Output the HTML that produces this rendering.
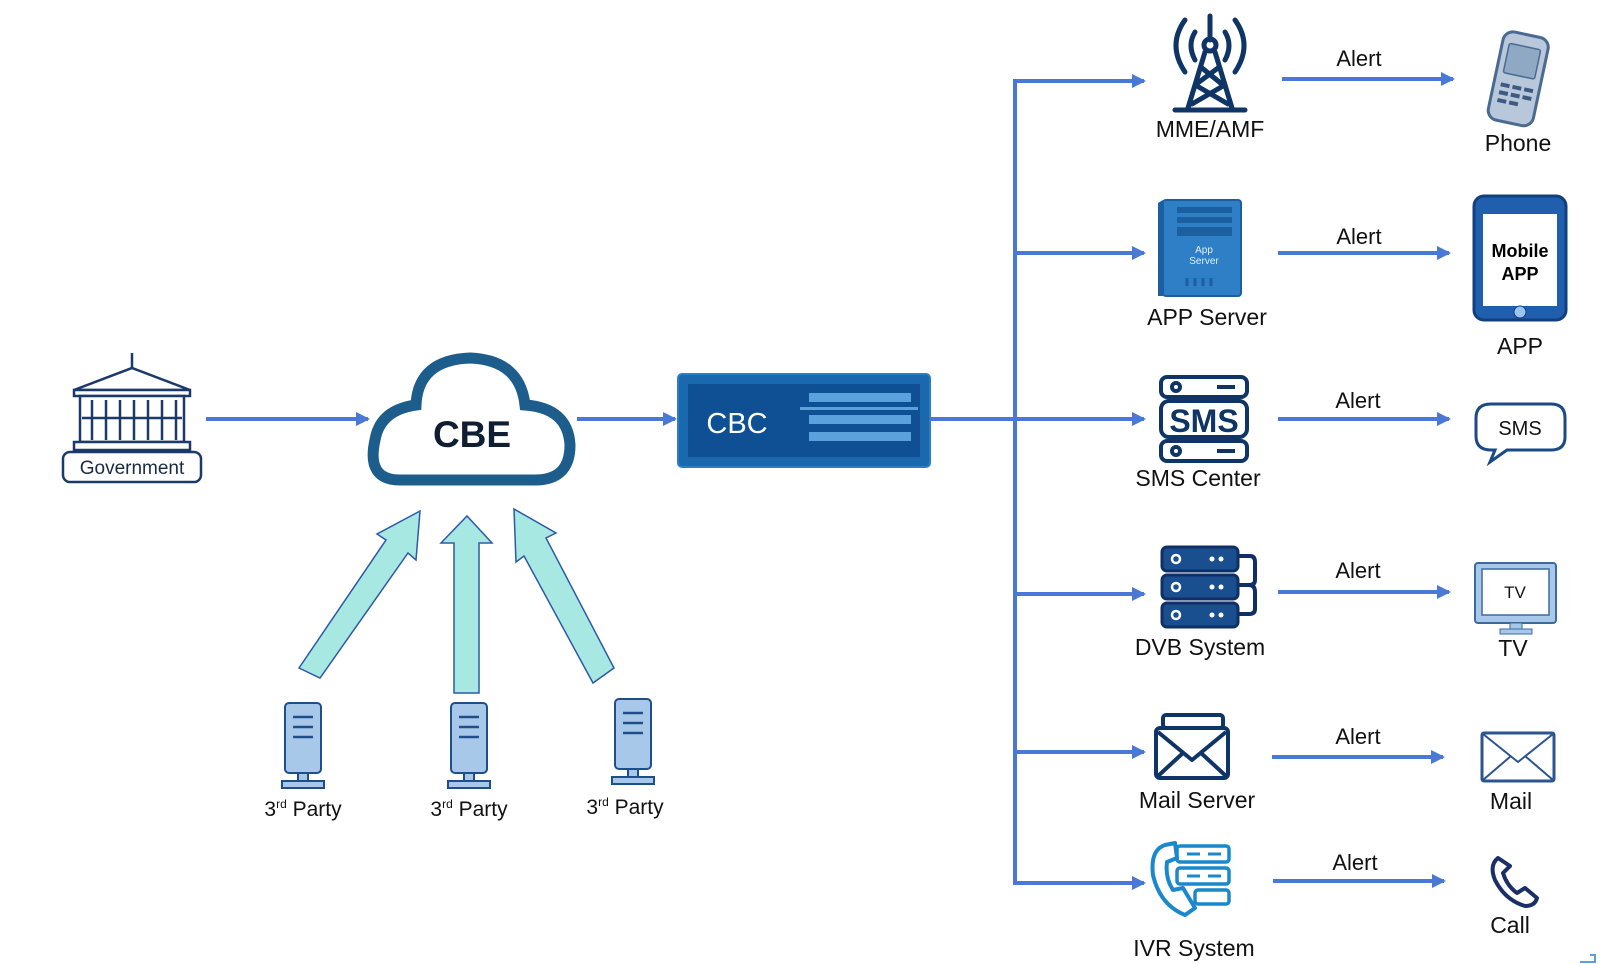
<!DOCTYPE html>
<html><head><meta charset="utf-8"><style>
html,body{margin:0;padding:0;background:#fff}
svg{display:block}
text{font-family:"Liberation Sans",sans-serif}
</style></head><body>
<svg width="1620" height="964" viewBox="0 0 1620 964" xmlns="http://www.w3.org/2000/svg">
<defs>
<marker id="ah2" markerWidth="14" markerHeight="14" refX="12" refY="7" orient="auto" markerUnits="userSpaceOnUse"><path d="M0,0 L14,7 L0,14 z" fill="#4a78d6"/></marker>
</defs>
<g stroke="#4a78d6" stroke-width="4" fill="none" marker-end="url(#ah2)">
<line x1="206" y1="419" x2="368" y2="419"/>
<line x1="577" y1="419" x2="675" y2="419"/>
</g>
<!-- Government -->
<g stroke="#1b3a6b" stroke-width="2.5" fill="#fff">
<line x1="132" y1="353" x2="132" y2="368"/>
<path d="M74 390 L132 368 L190 390 Z"/>
<rect x="74" y="390" width="116" height="6"/>
<rect x="80" y="396" width="104" height="46"/>
<line x1="92" y1="400" x2="92" y2="440"/><line x1="106" y1="400" x2="106" y2="440"/><line x1="120" y1="400" x2="120" y2="440"/><line x1="134" y1="400" x2="134" y2="440"/><line x1="148" y1="400" x2="148" y2="440"/><line x1="162" y1="400" x2="162" y2="440"/><line x1="176" y1="400" x2="176" y2="440"/>
<line x1="82" y1="418" x2="182" y2="418"/>
<rect x="74" y="442" width="116" height="8"/>
<rect x="63" y="452" width="138" height="30" rx="7"/>
</g>
<text x="132" y="474" font-size="19" text-anchor="middle" fill="#1b2a44">Government</text>
<!-- Cloud -->
<path d="M400 480 Q366 480 375 440 Q380 410 416 405 Q418 360 470 358 Q520 360 525 405 Q568 408 570 445 Q570 480 535 480 Z" fill="#fff" stroke="#1d5d8c" stroke-width="11"/>
<text x="472" y="447" font-size="37" font-weight="bold" text-anchor="middle" fill="#0f1e33">CBE</text>
<!-- CBC -->
<g transform="translate(-3,0)">
<rect x="681" y="374" width="252" height="93" rx="4" fill="#1a68ad" stroke="#2d7ec4" stroke-width="2"/>
<rect x="691" y="384" width="232" height="73" fill="#0f4f94"/>
<text x="740" y="433" font-size="29" text-anchor="middle" fill="#fff">CBC</text>
<g fill="#5aa2dc"><rect x="812" y="393" width="102" height="9"/><rect x="803" y="407" width="118" height="3"/><rect x="812" y="415" width="102" height="9"/><rect x="812" y="432" width="102" height="9"/></g>
</g>
<!-- teal arrows -->
<g fill="#a8e8e2" stroke="#2c5aa6" stroke-width="1.5">
<path d="M299 668 L386 540 L377 534 L420 511 L416 560 L408 553 L320 678 Z"/>
<path d="M454 693 L454 543 L441 543 L467 516 L492 543 L479 543 L479 693 Z"/>
<path d="M593 683 L524 556 L516 562 L514 509 L556 533 L546 538 L614 668 Z"/>
</g>
<!-- 3rd party servers -->
<g fill="#a8c8ea" stroke="#1f4f8a" stroke-width="2">
<rect x="285" y="703" width="36" height="70" rx="4"/><rect x="298" y="773" width="10" height="8"/><rect x="282" y="781" width="42" height="7"/>
<rect x="451" y="703" width="36" height="70" rx="4"/><rect x="464" y="773" width="10" height="8"/><rect x="448" y="781" width="42" height="7"/>
<rect x="615" y="699" width="36" height="70" rx="4"/><rect x="628" y="769" width="10" height="8"/><rect x="612" y="777" width="42" height="7"/>
</g>
<g stroke="#1f4f8a" stroke-width="2.5">
<line x1="293" y1="717" x2="313" y2="717"/><line x1="293" y1="727" x2="313" y2="727"/><line x1="293" y1="737" x2="313" y2="737"/>
<line x1="459" y1="717" x2="479" y2="717"/><line x1="459" y1="727" x2="479" y2="727"/><line x1="459" y1="737" x2="479" y2="737"/>
<line x1="623" y1="713" x2="643" y2="713"/><line x1="623" y1="723" x2="643" y2="723"/><line x1="623" y1="733" x2="643" y2="733"/>
</g>
<g font-size="21" fill="#111" text-anchor="middle">
<text x="303" y="816">3<tspan font-size="12" dy="-8">rd</tspan><tspan dy="8"> Party</tspan></text>
<text x="469" y="816">3<tspan font-size="12" dy="-8">rd</tspan><tspan dy="8"> Party</tspan></text>
<text x="625" y="814">3<tspan font-size="12" dy="-8">rd</tspan><tspan dy="8"> Party</tspan></text>
</g>
<line x1="930" y1="419" x2="1017" y2="419" stroke="#4a78d6" stroke-width="4"/>
<g transform="translate(-5,0)">
<g stroke="#4a78d6" stroke-width="4" fill="none" marker-end="url(#ah2)">
<line x1="1020" y1="81" x2="1149" y2="81"/>
<line x1="1020" y1="253" x2="1149" y2="253"/>
<line x1="1020" y1="419" x2="1149" y2="419"/>
<line x1="1020" y1="594" x2="1149" y2="594"/>
<line x1="1020" y1="752" x2="1149" y2="752"/>
<line x1="1020" y1="883" x2="1149" y2="883"/>
<line x1="1287" y1="79" x2="1458" y2="79"/>
<line x1="1283" y1="253" x2="1454" y2="253"/>
<line x1="1283" y1="419" x2="1454" y2="419"/>
<line x1="1283" y1="592" x2="1454" y2="592"/>
<line x1="1277" y1="757" x2="1448" y2="757"/>
<line x1="1278" y1="881" x2="1449" y2="881"/>
</g>
<line x1="1020" y1="79" x2="1020" y2="885" stroke="#4a78d6" stroke-width="4"/>
<!-- MME tower -->
<g stroke="#0f3466" stroke-width="5" fill="none" stroke-linecap="round">
<path d="M1190 20 Q1172 45 1190 72"/><path d="M1240 20 Q1258 45 1240 72"/>
<path d="M1200 32 Q1192 45 1200 60"/><path d="M1230 32 Q1238 45 1230 60"/>
<line x1="1215" y1="16" x2="1215" y2="40"/>
<circle cx="1215" cy="45" r="6"/>
<path d="M1210 52 L1193 108 M1220 52 L1237 108 M1207 68 L1228 85 M1223 68 L1200 85 M1202 86 L1233 104 M1228 86 L1197 104"/>
<line x1="1180" y1="110" x2="1250" y2="110"/>
</g>
<!-- APP server -->
<rect x="1168" y="200" width="78" height="96" rx="3" fill="#2f7fc6" stroke="#1c5fa0" stroke-width="2"/>
<path d="M1168 200 L1163 203 L1163 296 L1168 296 Z" fill="#1c5fa0"/>
<g fill="#1c5fa0"><rect x="1182" y="207" width="55" height="6"/><rect x="1182" y="217" width="55" height="6"/><rect x="1182" y="227" width="55" height="9"/></g>
<text x="1209" y="253" font-size="10" fill="#dfefff" text-anchor="middle">App</text>
<text x="1209" y="264" font-size="10" fill="#dfefff" text-anchor="middle">Server</text>
<g stroke="#1c5fa0" stroke-width="3"><line x1="1192" y1="278" x2="1192" y2="286"/><line x1="1200" y1="278" x2="1200" y2="286"/><line x1="1208" y1="278" x2="1208" y2="286"/><line x1="1216" y1="278" x2="1216" y2="286"/></g>
<!-- SMS center -->
<g stroke="#0f3466" stroke-width="4" fill="#fff">
<rect x="1166" y="377" width="86" height="20" rx="6"/>
<rect x="1166" y="401" width="86" height="36" rx="8"/>
<rect x="1166" y="441" width="86" height="20" rx="6"/>
</g>
<g stroke="#0f3466" stroke-width="4" fill="none"><circle cx="1181" cy="387" r="4"/><circle cx="1181" cy="451" r="4"/><line x1="1222" y1="387" x2="1240" y2="387"/><line x1="1222" y1="451" x2="1240" y2="451"/></g>
<text x="1209" y="432" font-size="32" font-weight="bold" fill="#0f3466" text-anchor="middle">SMS</text>
<!-- DVB -->
<g fill="#1a4f8f" stroke="#0f2f66" stroke-width="3">
<rect x="1167" y="547" width="76" height="24" rx="5"/><rect x="1167" y="575" width="76" height="24" rx="5"/><rect x="1167" y="603" width="76" height="24" rx="5"/>
</g>
<path d="M1243 556 L1255 556 Q1260 556 1260 562 L1260 580 Q1260 585 1254 585 L1243 585 M1254 585 Q1260 585 1260 592 L1260 609 Q1260 614 1254 614 L1243 614" fill="none" stroke="#0f2f66" stroke-width="4"/>
<g fill="none" stroke="#fff" stroke-width="2.5"><circle cx="1181" cy="559" r="4"/><circle cx="1181" cy="587" r="4"/><circle cx="1181" cy="615" r="4"/></g>
<g fill="#fff"><circle cx="1217" cy="559" r="2.5"/><circle cx="1226" cy="559" r="2.5"/><circle cx="1217" cy="587" r="2.5"/><circle cx="1226" cy="587" r="2.5"/><circle cx="1217" cy="615" r="2.5"/><circle cx="1226" cy="615" r="2.5"/></g>
<!-- Mail server -->
<g stroke="#0f3466" stroke-width="4" fill="#fff" stroke-linejoin="round">
<rect x="1168" y="715" width="60" height="13" rx="3"/>
<rect x="1161" y="728" width="72" height="50" rx="4"/>
<path d="M1163 732 L1197 760 L1231 732 M1163 776 L1188 753 M1231 776 L1206 753"/>
</g>
<!-- IVR -->
<path d="M1170 845 Q1155 850 1158 875 Q1165 905 1190 915 L1200 908 L1188 888 L1178 890 Q1170 878 1172 862 L1182 858 L1180 843 Z" fill="none" stroke="#1a88cc" stroke-width="4" stroke-linejoin="round"/>
<g fill="none" stroke="#1a88cc" stroke-width="3.5"><rect x="1182" y="846" width="52" height="16" rx="3"/><rect x="1182" y="868" width="52" height="16" rx="3"/><rect x="1200" y="890" width="34" height="14" rx="3"/></g>
<g stroke="#1a88cc" stroke-width="3"><line x1="1192" y1="854" x2="1205" y2="854"/><line x1="1213" y1="854" x2="1226" y2="854"/><line x1="1192" y1="876" x2="1205" y2="876"/><line x1="1213" y1="876" x2="1226" y2="876"/></g>
<!-- Phone -->
<g transform="rotate(12 1524 80)">
<rect x="1500" y="34" width="46" height="90" rx="10" fill="#b8c8da" stroke="#4a6a92" stroke-width="3"/>
<rect x="1507" y="46" width="32" height="30" rx="2" fill="#8fa8c4" stroke="#4a6a92" stroke-width="1.5"/>
<g fill="#3c5a82"><rect x="1507" y="86" width="9" height="4"/><rect x="1519" y="86" width="9" height="4"/><rect x="1531" y="86" width="9" height="4"/><rect x="1507" y="94" width="9" height="4"/><rect x="1519" y="94" width="9" height="4"/><rect x="1531" y="94" width="9" height="4"/><rect x="1507" y="102" width="9" height="4"/><rect x="1519" y="102" width="9" height="4"/></g>
</g>
<!-- Mobile app -->
<rect x="1479" y="196" width="92" height="124" rx="10" fill="#1f5fae" stroke="#123f7d" stroke-width="3"/>
<rect x="1488" y="214" width="74" height="92" fill="#fff"/>
<circle cx="1525" cy="312" r="6" fill="#9cc4ee" stroke="#123f7d"/>
<text x="1525" y="257" font-size="18" font-weight="bold" text-anchor="middle" fill="#000">Mobile</text>
<text x="1525" y="280" font-size="18" font-weight="bold" text-anchor="middle" fill="#000">APP</text>
<!-- SMS bubble -->
<path d="M1496 404 L1556 404 Q1570 404 1570 418 L1570 437 Q1570 450 1556 450 L1512 450 L1495 462 L1500 450 L1496 450 Q1481 450 1481 436 L1481 418 Q1481 404 1496 404 Z" fill="#fff" stroke="#1b4a86" stroke-width="3"/>
<text x="1525" y="435" font-size="20" text-anchor="middle" fill="#111">SMS</text>
<!-- TV -->
<rect x="1480" y="563" width="81" height="60" rx="3" fill="#a8c8ea" stroke="#3c6aa0" stroke-width="2"/>
<rect x="1487" y="569" width="67" height="46" fill="#fff" stroke="#3c6aa0" stroke-width="1.5"/>
<rect x="1515" y="623" width="12" height="6" fill="#a8c8ea" stroke="#3c6aa0"/>
<rect x="1505" y="629" width="32" height="5" fill="#a8c8ea" stroke="#3c6aa0"/>
<text x="1520" y="598" font-size="17" text-anchor="middle" fill="#111">TV</text>
<!-- Mail -->
<rect x="1487" y="733" width="72" height="48" rx="2" fill="#fff" stroke="#2c5590" stroke-width="3"/>
<path d="M1488 734 L1523 762 L1558 734 M1488 780 L1516 756 M1558 780 L1530 756" fill="none" stroke="#2c5590" stroke-width="2"/>
<!-- Call -->
<path d="M1503 858 Q1494 865 1500 880 Q1510 900 1530 906 Q1540 906 1542 898 L1530 888 L1522 893 Q1512 886 1508 873 L1515 866 Z" fill="none" stroke="#1a2f66" stroke-width="4" stroke-linejoin="round"/>
<!-- labels -->
<g font-size="23" fill="#111" text-anchor="middle">
<text x="1215" y="137">MME/AMF</text>
<text x="1212" y="325">APP Server</text>
<text x="1203" y="486">SMS Center</text>
<text x="1205" y="655">DVB System</text>
<text x="1202" y="808">Mail Server</text>
<text x="1199" y="956">IVR System</text>
<text x="1523" y="151">Phone</text>
<text x="1525" y="354">APP</text>
<text x="1518" y="656">TV</text>
<text x="1516" y="809">Mail</text>
<text x="1515" y="933">Call</text>
</g>
<g font-size="22" fill="#111" text-anchor="middle">
<text x="1364" y="66">Alert</text>
<text x="1364" y="244">Alert</text>
<text x="1363" y="408">Alert</text>
<text x="1363" y="578">Alert</text>
<text x="1363" y="744">Alert</text>
<text x="1360" y="870">Alert</text>
</g>
</g>
<path d="M1590 955 L1595 955 L1595 962 L1580 962" fill="none" stroke="#5aa0e0" stroke-width="2"/>
</svg>
</body></html>
